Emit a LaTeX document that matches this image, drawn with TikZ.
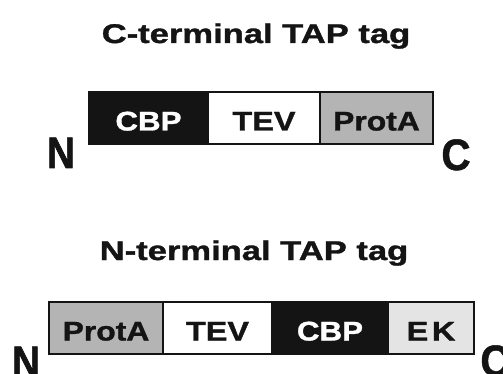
\documentclass[tikz,border=0pt]{standalone}
\usepackage{fontspec}
\setmainfont{Liberation Sans}[BoldFeatures={FakeBold=1.2}]
\definecolor{protgray}{RGB}{180,180,180}
\definecolor{ekgray}{RGB}{228,228,228}
\definecolor{ink}{RGB}{20,20,20}
\begin{document}
\begin{tikzpicture}[x=1pt,y=-1pt,
  cell/.style={draw=ink,line width=2pt,anchor=north west,inner sep=0pt,
    minimum height=52pt,text height=25pt,text depth=0pt,
    font=\fontsize{27}{27}\selectfont\bfseries},
  title/.style={anchor=base,inner sep=0pt,font=\fontsize{27}{27}\selectfont\bfseries,text=ink},
  term/.style={anchor=base,inner sep=0pt,font=\fontsize{44}{44}\selectfont\bfseries,text=ink}]
\useasboundingbox (0,0) rectangle (503,374);
% C-terminal
\node[title] (t1) at (256,43) {\scalebox{1.28}[1]{C-terminal TAP tag}};
\node[cell,fill=ink,text=white,minimum width=119pt] (c1) at (88,91) {\scalebox{1.16}[1]{CBP}};
\node[cell,fill=white,text=ink,minimum width=112pt] (c2) at (207,91) {\scalebox{1.2}[1]{TEV}};
\node[cell,fill=protgray,text=ink,minimum width=113pt] (c3) at (319,91) {\scalebox{1.18}[1]{ProtA}};
\node[term] (n1) at (61,168) {\scalebox{0.88}[1]{N}};
\node[term] (k1) at (456,170) {\scalebox{0.92}[1]{C}};
% N-terminal
\node[title] (t2) at (254,260) {\scalebox{1.28}[1]{N-terminal TAP tag}};
\node[cell,fill=protgray,text=ink,minimum width=114pt] (d1) at (48,301) {\scalebox{1.18}[1]{ProtA}};
\node[cell,fill=white,text=ink,minimum width=109pt] (d2) at (162,301) {\scalebox{1.2}[1]{TEV}};
\node[cell,fill=ink,text=white,minimum width=116pt] (d3) at (271,301) {\scalebox{1.16}[1]{CBP}};
\node[cell,fill=ekgray,text=ink,minimum width=86pt] (d4) at (387,301) {\scalebox{1.2}[1]{E\hspace{3pt}K}};
\node[term] (n2) at (26,377) {\scalebox{0.88}[1]{N}};
\node[term] (k2) at (495,376) {\scalebox{0.92}[1]{C}};
\end{tikzpicture}
\end{document}
